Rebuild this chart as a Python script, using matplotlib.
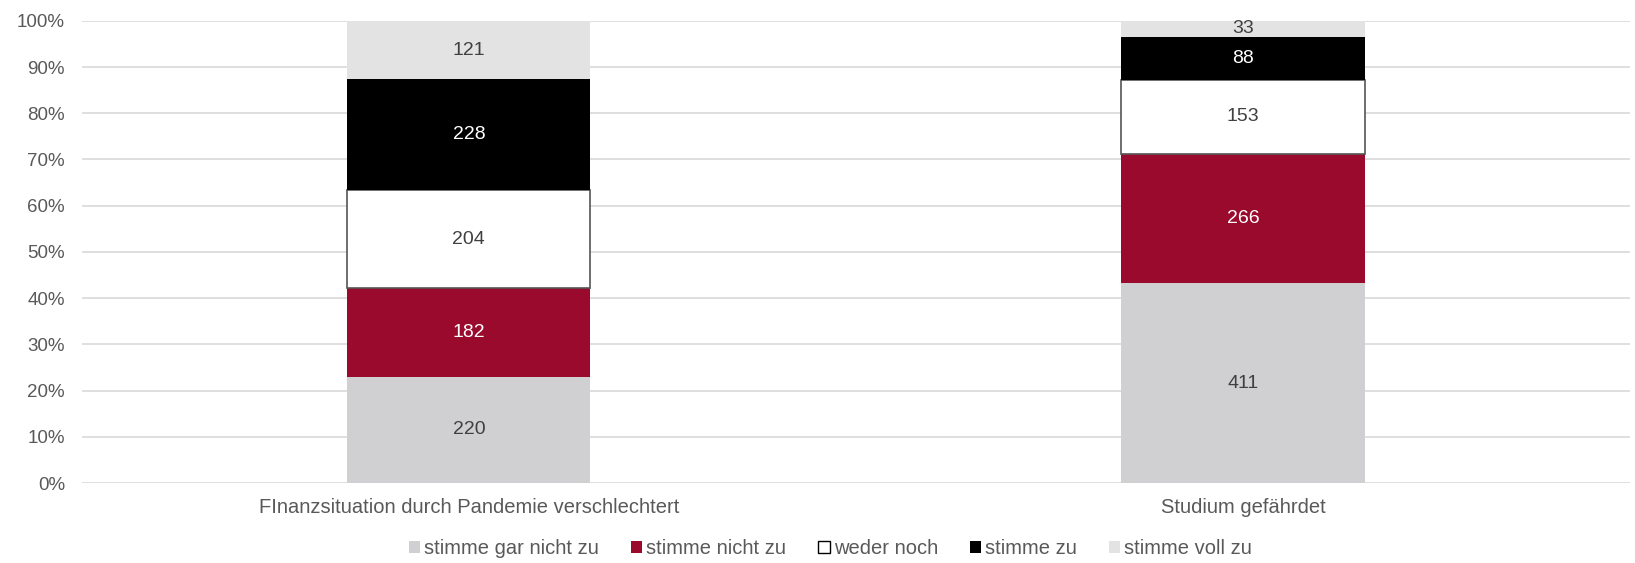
import matplotlib.pyplot as plt
import numpy as np
from matplotlib.ticker import PercentFormatter
from matplotlib.patches import Patch

plt.rcParams['font.family'] = ['Liberation Sans', 'DejaVu Sans']

categories = ['FInanzsituation durch Pandemie verschlechtert', 'Studium gefährdet']
series = ['stimme gar nicht zu', 'stimme nicht zu', 'weder noch', 'stimme zu', 'stimme voll zu']
counts = np.array([
    [220, 411],
    [182, 266],
    [204, 153],
    [228, 88],
    [121, 33],
])

colors = ['#D0D0D2', '#990A2C', '#FFFFFF', '#000000', '#E2E3E2']
text_colors = ['#404040', 'white', '#404040', 'white', '#404040']
edges = ['none', 'none', '#555555', 'none', 'none']

share = counts / counts.sum(axis=0) * 100

fig = plt.figure(figsize=(16.35, 5.63), dpi=100)
ax = fig.add_axes([0.050, 0.142, 0.947, 0.821])

x = np.arange(len(categories))
bottom = np.zeros(len(categories))
for i, name in enumerate(series):
    bars = ax.bar(x, share[i], 0.314, bottom=bottom, color=colors[i],
                  edgecolor=edges[i], linewidth=1.2, zorder=3, label=name)
    for j, b in enumerate(bars):
        ax.text(b.get_x() + b.get_width() / 2, bottom[j] + share[i][j] / 2,
                str(counts[i][j]), ha='center', va='center',
                fontsize=14, color=text_colors[i], zorder=4)
    bottom += share[i]

ax.set_xlim(-0.5, 1.5)
ax.set_ylim(0, 100)
ax.set_yticks(np.arange(0, 101, 10))
ax.yaxis.set_major_formatter(PercentFormatter(decimals=0))
ax.set_xticks(x)
ax.set_xticklabels(categories)
ax.tick_params(axis='y', length=0, labelsize=13.5, colors='#595959', pad=12)
ax.tick_params(axis='x', length=0, labelsize=14.5, colors='#595959', pad=11)
ax.grid(axis='y', color='#D9D9D9', linewidth=1.2, zorder=0)
for s in ax.spines.values():
    s.set_visible(False)

handles = [Patch(facecolor=colors[i], edgecolor='black' if i == 2 else 'none',
                 label=series[i]) for i in range(len(series))]
fig.legend(handles=handles, loc='center', bbox_to_anchor=(0.508, 0.025), ncol=5,
           frameon=False, fontsize=14.5, handlelength=0.55, handleheight=0.55,
           handletextpad=0.2, columnspacing=1.6, labelcolor='#595959')

fig.savefig('out.png', dpi=100)
